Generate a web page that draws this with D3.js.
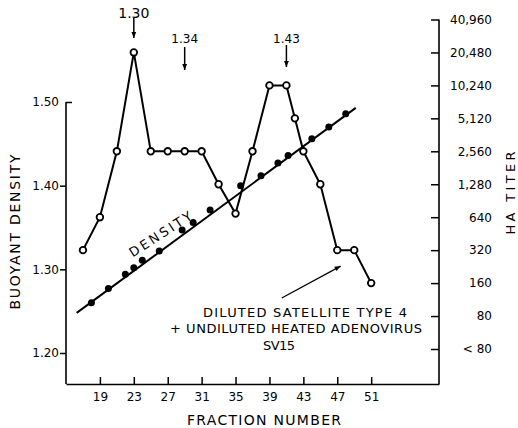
<!DOCTYPE html>
<html>
<head>
<meta charset="utf-8">
<script src="https://cdn.jsdelivr.net/npm/d3@7"></script>
<style>
  body { margin: 0; background: #fff; }
  text { font-family: "DejaVu Sans", sans-serif; fill: #000; }
</style>
</head>
<body>
<div id="chart"></div>
<script>
// tick values and labels
var fractionTicks = [19, 23, 27, 31, 35, 39, 43, 47, 51];
var densityTicks = [1.20, 1.30, 1.40, 1.50];
var titerTicks = [40, 80, 160, 320, 640, 1280, 2560, 5120, 10240, 20480, 40960];
var titerLabels = ["< 80", "80", "160", "320", "640", "1,280", "2,560", "5,120", "10,240", "20,480", "40,960"];

// HA titer (open circles)
var haFraction = [17, 19, 21, 23, 25, 27, 29, 31, 33, 35, 37, 39, 41, 42, 43, 45, 47, 49, 51];
var haTiter = [320, 640, 2560, 20480, 2560, 2560, 2560, 2560, 1280, 690, 2560, 10240, 10240, 5120, 2560, 1280, 320, 320, 160];

// buoyant density (filled dots) and the fitted line
var densFraction = [18, 20, 22, 23, 24, 26, 28.7, 30, 32, 35.6, 38, 40, 41.2, 44, 46, 48];
var densValue = [1.260, 1.277, 1.294, 1.302, 1.311, 1.322, 1.347, 1.356, 1.371, 1.400, 1.412, 1.427, 1.436, 1.456, 1.470, 1.486];
var fitFraction = [16.26, 49.18];
var fitDensity = [1.248, 1.493];

// peak annotations
var peakFraction = [23, 29, 41];
var peakLabel = ["1.30", "1.34", "1.43"];

var svgWidth = 518, svgHeight = 428;

var svg = d3.select("#chart").append("svg")
    .attr("width", svgWidth)
    .attr("height", svgHeight);

var defs = svg.append("defs");
defs.append("marker")
    .attr("id", "head")
    .attr("viewBox", "0 0 10 10")
    .attr("refX", 10).attr("refY", 5)
    .attr("markerUnits", "userSpaceOnUse")
    .attr("markerWidth", 9).attr("markerHeight", 6)
    .attr("orient", "auto")
  .append("path")
    .attr("d", "M0,1 L10,5 L0,9 Z")
    .attr("fill", "#000");

var xScale = d3.scaleLinear().domain([15, 59]).range([66, 439]);
var yDens = d3.scaleLinear().domain([1.20, 1.50]).range([353, 102]);
var yHA = d3.scaleLog().base(2).domain([40, 40960]).range([349, 19.5]);

// bottom axis
var xAxis = svg.append("g")
    .attr("transform", "translate(0,384)")
    .call(d3.axisBottom(xScale).tickValues(fractionTicks)
      .tickSizeInner(-7).tickSizeOuter(0).tickPadding(8));
xAxis.select(".domain").attr("stroke-width", 1.6);
xAxis.selectAll(".tick line").attr("stroke-width", 1.5);
xAxis.selectAll("text").attr("font-size", 12).attr("font-family", "DejaVu Sans");

// left axis
var yAxisL = svg.append("g")
    .attr("transform", "translate(66,0)")
    .call(d3.axisLeft(yDens).tickValues(densityTicks)
      .tickSize(6).tickPadding(1).tickFormat(d3.format(".2f")));
yAxisL.select(".domain").remove();
yAxisL.append("line").attr("y1", yDens(1.50)).attr("y2", 384).attr("stroke", "#000").attr("stroke-width", 1.6);
yAxisL.selectAll(".tick line").attr("stroke-width", 1.5)
    .attr("x2", d => d === 1.50 ? 6 : -6);
yAxisL.selectAll("text").attr("font-size", 12).attr("font-family", "DejaVu Sans");

// right axis
var yAxisR = svg.append("g")
    .attr("transform", "translate(439,0)")
    .call(d3.axisRight(yHA).tickValues(titerTicks)
      .tickSizeInner(-8).tickSizeOuter(0)
      .tickFormat((d, i) => titerLabels[i]));
yAxisR.select(".domain").remove();
yAxisR.append("line").attr("y1", yHA(40960)).attr("y2", 384).attr("stroke", "#000").attr("stroke-width", 1.6);
yAxisR.selectAll(".tick line").attr("stroke-width", 1.5);
yAxisR.selectAll("text")
    .attr("x", 53)
    .attr("text-anchor", "end")
    .attr("font-size", 12)
    .attr("font-family", "DejaVu Sans");

// axis titles
svg.append("text")
    .attr("transform", "translate(20,232) rotate(-90)")
    .attr("text-anchor", "middle")
    .attr("font-size", 14)
    .attr("textLength", 155).attr("lengthAdjust", "spacing")
    .text("BUOYANT DENSITY");

svg.append("text")
    .attr("transform", "translate(515,193) rotate(-90)")
    .attr("text-anchor", "middle")
    .attr("font-size", 13)
    .attr("textLength", 83).attr("lengthAdjust", "spacing")
    .text("HA TITER");

svg.append("text")
    .attr("x", 264).attr("y", 425)
    .attr("text-anchor", "middle")
    .attr("font-size", 14)
    .attr("textLength", 154).attr("lengthAdjust", "spacing")
    .text("FRACTION NUMBER");

// density fit line
var fitData = fitFraction.map((f, i) => [f, fitDensity[i]]);
svg.append("path")
    .datum(fitData)
    .attr("fill", "none")
    .attr("stroke", "#000")
    .attr("stroke-width", 2)
    .attr("d", d3.line().x(d => xScale(d[0])).y(d => yDens(d[1])));

svg.selectAll(".dens")
    .data(densFraction)
    .enter()
    .append("circle")
    .attr("class", "dens")
    .attr("cx", d => xScale(d))
    .attr("cy", (d, i) => yDens(densValue[i]))
    .attr("r", 3.5)
    .attr("fill", "#000");

// HA titer line
var haData = haFraction.map((f, i) => [f, haTiter[i]]);
svg.append("path")
    .datum(haData)
    .attr("fill", "none")
    .attr("stroke", "#000")
    .attr("stroke-width", 2)
    .attr("d", d3.line().x(d => xScale(d[0])).y(d => yHA(d[1])));

svg.selectAll(".ha")
    .data(haData)
    .enter()
    .append("circle")
    .attr("class", "ha")
    .attr("cx", d => xScale(d[0]))
    .attr("cy", d => yHA(d[1]))
    .attr("r", 3.3)
    .attr("fill", "#fff")
    .attr("stroke", "#000")
    .attr("stroke-width", 1.8);

// DENSITY label along the line
svg.append("text")
    .attr("transform", "translate(163,238) rotate(-33)")
    .attr("text-anchor", "middle")
    .attr("font-size", 13)
    .attr("textLength", 72).attr("lengthAdjust", "spacing")
    .text("DENSITY");

// peak arrows
var peakTop = [18, 47, 45], peakBottom = [38, 70, 67], peakTextY = [18, 43, 43], peakSize = [14, 12, 12];
peakFraction.forEach(function(f, i) {
  svg.append("line")
      .attr("x1", xScale(f)).attr("x2", xScale(f))
      .attr("y1", peakTop[i]).attr("y2", peakBottom[i])
      .attr("stroke", "#000").attr("stroke-width", 1.5)
      .attr("marker-end", "url(#head)");
  svg.append("text")
      .attr("x", xScale(f)).attr("y", peakTextY[i])
      .attr("text-anchor", "middle")
      .attr("font-size", peakSize[i])
      .text(peakLabel[i]);
});

// sample note with arrow
svg.append("line")
    .attr("x1", xScale(40.45)).attr("y1", yHA(117))
    .attr("x2", xScale(47.4)).attr("y2", yHA(229))
    .attr("stroke", "#000").attr("stroke-width", 1.3)
    .attr("marker-end", "url(#head)");

var noteLines = ["DILUTED SATELLITE TYPE 4", "+ UNDILUTED HEATED ADENOVIRUS", "SV15"];
var noteX = [305, 296, 279], noteY = [317, 333, 350], noteW = [204, 252, 32];
noteLines.forEach(function(t, i) {
  svg.append("text")
      .attr("x", noteX[i]).attr("y", noteY[i])
      .attr("text-anchor", "middle")
      .attr("font-size", 13)
      .attr("textLength", noteW[i]).attr("lengthAdjust", "spacing")
      .text(t);
});
</script>
</body>
</html>
